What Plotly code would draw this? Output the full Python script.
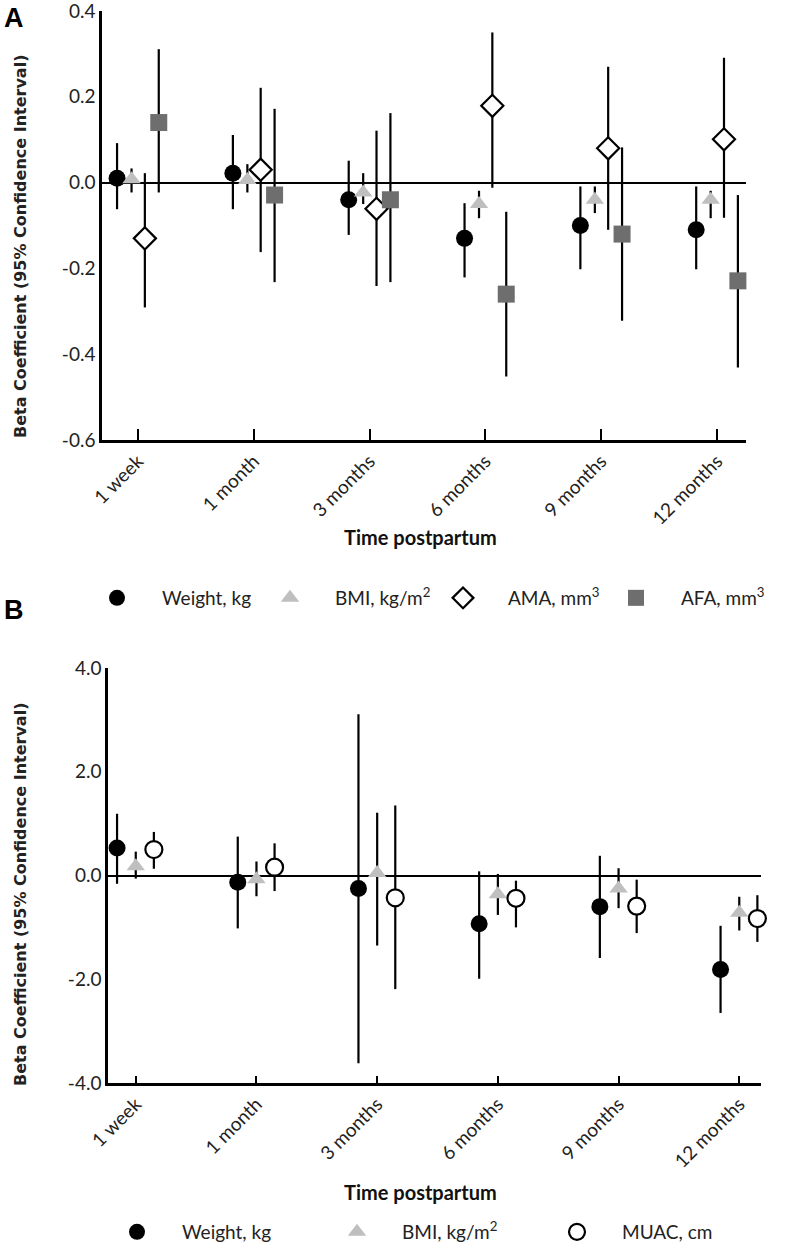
import plotly.graph_objects as go

# ---------------- data ----------------
time_points = ["1 week", "1 month", "3 months", "6 months", "9 months", "12 months"]

# Panel A
a_weight_est = [0.010, 0.022, -0.040, -0.130, -0.100, -0.110]
a_weight_lo = [-0.062, -0.062, -0.122, -0.221, -0.202, -0.202]
a_weight_hi = [0.092, 0.111, 0.051, -0.048, -0.009, -0.009]

a_bmi_est = [0.008, 0.006, -0.023, -0.050, -0.040, -0.040]
a_bmi_lo = [-0.023, -0.023, -0.050, -0.083, -0.071, -0.083]
a_bmi_hi = [0.033, 0.043, 0.022, -0.019, -0.009, -0.019]

a_ama_est = [-0.130, 0.030, -0.061, 0.179, 0.080, 0.101]
a_ama_lo = [-0.291, -0.162, -0.241, -0.012, -0.110, -0.082]
a_ama_hi = [0.022, 0.221, 0.121, 0.350, 0.270, 0.291]

a_afa_est = [0.140, -0.029, -0.040, -0.260, -0.120, -0.229]
a_afa_lo = [-0.023, -0.232, -0.232, -0.452, -0.322, -0.431]
a_afa_hi = [0.311, 0.172, 0.162, -0.068, 0.082, -0.029]

# Panel B
b_weight_est = [0.53, -0.13, -0.25, -0.93, -0.60, -1.81]
b_weight_lo = [-0.16, -1.02, -3.62, -1.99, -1.59, -2.65]
b_weight_hi = [1.19, 0.75, 3.11, 0.08, 0.38, -0.97]

b_bmi_est = [0.18, -0.07, 0.05, -0.36, -0.25, -0.72]
b_bmi_lo = [-0.06, -0.40, -1.35, -0.76, -0.63, -1.06]
b_bmi_hi = [0.46, 0.27, 1.21, 0.03, 0.14, -0.41]

b_muac_est = [0.50, 0.16, -0.43, -0.44, -0.59, -0.83]
b_muac_lo = [0.13, -0.30, -2.19, -1.00, -1.11, -1.28]
b_muac_hi = [0.84, 0.62, 1.35, -0.10, -0.08, -0.38]

a_yticks = [0.4, 0.2, 0.0, -0.2, -0.4, -0.6]
b_yticks = [4.0, 2.0, 0.0, -2.0, -4.0]

# ---------------- styling ----------------
FONT = "Lato"
BAR = dict(color="black", thickness=2.2, width=0)

fig = go.Figure()


def add_series(est, lo, hi, offset, name, marker, xa, ya, legend):
    xs = [i + offset for i in range(len(est))]
    fig.add_trace(go.Scatter(
        x=xs, y=est, mode="markers", name=name,
        xaxis=xa, yaxis=ya, legend=legend,
        marker=marker,
        error_y=dict(type="data", symmetric=False,
                     array=[h - e for h, e in zip(hi, est)],
                     arrayminus=[e - l for e, l in zip(est, lo)],
                     **BAR),
        cliponaxis=False,
    ))


# Panel A traces
add_series(a_weight_est, a_weight_lo, a_weight_hi, -0.18, "Weight, kg",
           dict(symbol="circle", size=17, color="black"), "x", "y", "legend")
add_series(a_bmi_est, a_bmi_lo, a_bmi_hi, -0.055, "BMI, kg/m<sup>2</sup>",
           dict(symbol="triangle-up", size=16, color="#bfbfbf"), "x", "y", "legend")
add_series(a_ama_est, a_ama_lo, a_ama_hi, 0.06, "AMA, mm<sup>3</sup>",
           dict(symbol="diamond", size=17, color="white",
                line=dict(color="black", width=2.2)), "x", "y", "legend")
add_series(a_afa_est, a_afa_lo, a_afa_hi, 0.18, "AFA, mm<sup>3</sup>",
           dict(symbol="square", size=17, color="#6e6e6e"), "x", "y", "legend")

# Panel B traces
add_series(b_weight_est, b_weight_lo, b_weight_hi, -0.155, "Weight, kg",
           dict(symbol="circle", size=17, color="black"), "x2", "y2", "legend2")
add_series(b_bmi_est, b_bmi_lo, b_bmi_hi, 0.0, "BMI, kg/m<sup>2</sup>",
           dict(symbol="triangle-up", size=16, color="#bfbfbf"), "x2", "y2", "legend2")
add_series(b_muac_est, b_muac_lo, b_muac_hi, 0.15, "MUAC, cm",
           dict(symbol="circle", size=17, color="white",
                line=dict(color="black", width=2.2)), "x2", "y2", "legend2")

W, H = 789, 1252


def px_x(p):
    return p / W


def px_y(p):
    return 1 - p / H


xcommon = dict(
    tickmode="array", tickvals=list(range(len(time_points))), ticktext=time_points,
    tickangle=-45, tickfont=dict(family=FONT, size=19, color="#222"),
    showline=True, linecolor="black", linewidth=2.5,
    ticks="inside", tickcolor="black", tickwidth=2,
    showgrid=False, zeroline=False, layer="below traces", automargin=False,
    ticklabeloverflow="allow",
)
ycommon = dict(
    showline=True, linecolor="black", linewidth=2.5, ticks="",
    tickfont=dict(family=FONT, size=19, color="#222"),
    showgrid=False, zeroline=True, zerolinecolor="black", zerolinewidth=2,
    layer="below traces", automargin=False, ticklabeloverflow="allow",
)

fig.update_layout(
    width=W, height=H, margin=dict(l=0, r=0, t=0, b=0, autoexpand=False),
    paper_bgcolor="white", plot_bgcolor="white",
    showlegend=True,
    xaxis=dict(domain=[px_x(102), px_x(746)], range=[-0.31, 5.25], anchor="y",
               ticklen=11, **xcommon),
    yaxis=dict(domain=[px_y(440), px_y(11)], range=[-0.6, 0.4], anchor="x",
               tickmode="array", tickvals=a_yticks,
               ticktext=[f"{v:.1f}" if v != 0 else "0.0" for v in a_yticks],
               **ycommon),
    xaxis2=dict(domain=[px_x(108), px_x(761)], range=[-0.23, 5.18], anchor="y2",
                ticklen=7, **xcommon),
    yaxis2=dict(domain=[px_y(1083), px_y(668)], range=[-4.0, 4.0], anchor="x2",
                tickmode="array", tickvals=b_yticks,
                ticktext=[f"{v:.1f}" if v != 0 else "0.0" for v in b_yticks],
                **ycommon),
    legend=dict(orientation="h", x=px_x(72), y=px_y(598), xanchor="left", yanchor="middle",
                font=dict(family=FONT, size=19, color="#222"),
                entrywidth=78, entrywidthmode="pixels", itemwidth=80,
                bgcolor="rgba(0,0,0,0)"),
    legend2=dict(orientation="h", x=px_x(92), y=px_y(1232), xanchor="left", yanchor="middle",
                 font=dict(family=FONT, size=19, color="#222"),
                 entrywidth=125, entrywidthmode="pixels", itemwidth=80,
                 bgcolor="rgba(0,0,0,0)"),
)

title_font = dict(family="DejaVu Sans", size=16, color="#222")
annotations = [
    dict(text="<b>A</b>", x=px_x(2), y=px_y(18), xanchor="left", yanchor="middle",
         font=dict(family="Liberation Sans", size=27, color="black")),
    dict(text="<b>B</b>", x=px_x(2), y=px_y(610), xanchor="left", yanchor="middle",
         font=dict(family="Liberation Sans", size=27, color="black")),
    dict(text="<b>Beta Coefficient (95% Confidence Interval)</b>", textangle=-90,
         x=px_x(20), y=px_y(247), xanchor="center", yanchor="middle", font=title_font),
    dict(text="<b>Beta Coefficient (95% Confidence Interval)</b>", textangle=-90,
         x=px_x(20), y=px_y(895), xanchor="center", yanchor="middle", font=title_font),
    dict(text="<b>Time postpartum</b>", x=px_x(420), y=px_y(537),
         xanchor="center", yanchor="middle",
         font=dict(family=FONT, size=20, color="#111")),
    dict(text="<b>Time postpartum</b>", x=px_x(420), y=px_y(1192),
         xanchor="center", yanchor="middle",
         font=dict(family=FONT, size=20, color="#111")),
]
for a in annotations:
    a.update(xref="paper", yref="paper", showarrow=False)
fig.update_layout(annotations=annotations)

fig.write_html("out.html", config={"displayModeBar": False},
               post_script="document.body.style.margin='0';")
